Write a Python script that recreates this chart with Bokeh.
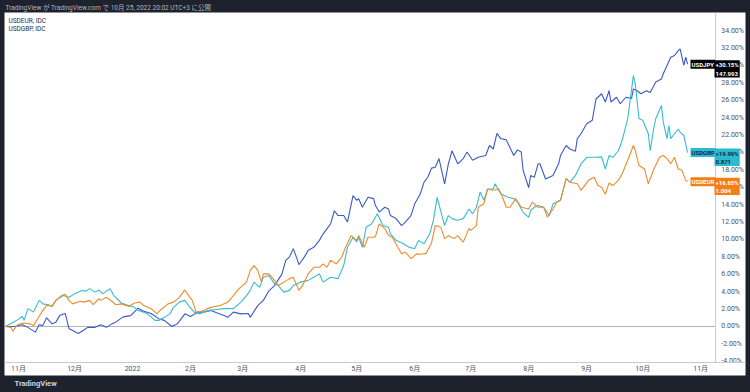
import numpy as np
from bokeh.plotting import figure
from bokeh.models import Range1d, FixedTicker, Span, Label, Title
from bokeh.core.properties import value
from bokeh.embed import file_html
from bokeh.resources import INLINE

# ---------------- data (percent change since start date) ----------------
start_date = "2021-10-25"

jpy_days = [0, 5, 9, 12, 16, 18, 20, 22, 25, 27,
            29, 32, 34, 36, 39, 42, 44, 48, 51, 54,
            57, 59, 63, 67, 71, 74, 78, 82, 85, 89,
            92, 96, 99, 103, 106, 110, 114, 117, 119, 122,
            126, 130, 131, 135, 138, 141, 144, 148, 150, 152,
            154, 156, 157, 160, 162, 165, 168, 170, 174, 176,
            178, 181, 183, 186, 188, 189, 191, 194, 197, 198,
            200, 203, 205, 206, 209, 212, 214, 217, 219, 221,
            222, 224, 226, 228, 230, 232, 235, 237, 239, 242,
            245, 247, 250, 253, 257, 259, 261, 263, 265, 268,
            272, 274, 276, 277, 280, 281, 283, 285, 286, 289,
            293, 296, 297, 300, 302, 305, 306, 308, 311, 314,
            316, 319, 321, 323, 324, 327, 329, 332, 335, 336,
            338, 340, 343, 345, 348, 351, 352, 354, 356, 358,
            360, 361, 363, 364, 365]
jpy_pct = [0.0, 0.0, 0.2, -0.1, -0.65, 0.2, 0.1, 1.0, 0.3, 0.5,
           1.25, 1.5, -0.25, -0.45, -0.8, -0.4, -0.1, -0.1, 0.2, -0.1,
           0.3, 0.5, 1.1, 1.25, 2.1, 1.75, 1.5, 0.9, 0.7, 0.0,
           0.3, 1.45, 1.15, 1.65, 1.65, 1.85, 1.5, 1.25, 1.05, 1.65,
           1.45, 1.5, 1.05, 2.4, 3.0, 4.1, 4.7, 6.05, 7.6, 8.0,
           8.95, 7.8, 7.1, 8.0, 8.75, 9.1, 9.9, 10.65, 11.8, 13.3,
           12.75, 12.75, 12.0, 15.05, 14.5, 14.7, 13.7, 14.85, 14.7, 13.9,
           13.15, 13.7, 13.5, 12.75, 12.4, 11.6, 12.0, 12.75, 14.1, 14.85,
           15.25, 16.6, 17.15, 18.2, 18.3, 19.3, 16.4, 18.7, 20.2, 18.7,
           19.3, 20.05, 19.1, 19.45, 19.65, 20.8, 20.4, 22.2, 21.6, 21.45,
           19.65, 20.3, 20.05, 17.95, 15.95, 17.35, 17.15, 18.7, 18.7, 16.95,
           17.35, 18.7, 19.65, 20.8, 20.4, 20.15, 21.6, 22.15, 23.3, 23.7,
           26.15, 26.75, 25.8, 27.1, 25.8, 26.35, 25.6, 26.35, 26.2, 27.3,
           27.1, 26.75, 27.1, 26.9, 28.1, 28.45, 29.05, 30.0, 30.95, 31.15,
           31.7, 31.9, 30.0, 30.95, 30.15]

gbp_days = [0, 6, 9, 10, 12, 15, 18, 20, 23, 25,
            27, 31, 34, 37, 41, 43, 45, 48, 50, 52,
            56, 58, 62, 66, 69, 71, 74, 76, 80, 82,
            85, 88, 90, 93, 96, 98, 101, 104, 106, 109,
            113, 117, 120, 122, 126, 129, 131, 133, 136, 138,
            141, 144, 146, 149, 152, 154, 158, 162, 165, 168,
            170, 174, 178, 181, 183, 186, 188, 189, 191, 193,
            196, 199, 202, 205, 206, 209, 213, 216, 219, 221,
            224, 227, 229, 231, 235, 237, 239, 242, 245, 248,
            250, 252, 254, 256, 258, 261, 262, 265, 269, 272,
            274, 276, 277, 280, 281, 283, 285, 288, 291, 293,
            297, 300, 302, 305, 308, 311, 313, 316, 319, 321,
            323, 325, 328, 330, 333, 336, 337, 339, 341, 344,
            345, 347, 348, 351, 352, 354, 355, 356, 358, 360,
            361, 363, 364, 365]
gbp_pct = [0.0, 0.7, 1.15, 0.7, 2.05, 1.65, 3.0, 2.6, 2.5, 2.3,
           3.0, 3.55, 3.35, 3.75, 4.15, 4.05, 4.35, 3.95, 4.2, 3.75,
           4.35, 3.55, 2.7, 2.4, 2.2, 1.85, 1.65, 1.45, 0.7, 0.7,
           1.05, 1.45, 2.2, 2.8, 3.0, 2.4, 1.65, 1.45, 1.65, 1.85,
           1.95, 2.05, 2.05, 2.05, 2.8, 3.55, 4.15, 5.1, 4.5, 5.65,
           5.85, 4.9, 4.7, 3.95, 4.15, 4.7, 5.1, 5.3, 5.65, 6.05,
           5.1, 5.65, 5.5, 7.0, 9.1, 10.25, 9.7, 10.25, 9.1, 11.4,
           11.8, 12.95, 11.6, 11.4, 10.65, 9.9, 9.5, 9.1, 8.95, 9.9,
           9.5, 10.65, 12.2, 14.85, 11.6, 12.75, 12.4, 12.2, 12.4, 13.5,
           12.95, 13.7, 15.45, 14.5, 15.8, 15.8, 16.4, 15.25, 14.85, 14.7,
           14.3, 13.5, 13.15, 12.55, 13.35, 13.7, 13.9, 13.7, 12.75, 14.1,
           14.5, 17.0, 16.6, 17.35, 18.7, 19.45, 19.45, 19.45, 19.5, 18.1,
           19.65, 19.45, 20.2, 21.4, 23.9, 28.85, 27.9, 23.9, 23.7, 22.15,
           20.2, 22.9, 23.9, 25.4, 23.5, 21.6, 23.1, 21.6, 22.15, 22.7,
           22.35, 21.95, 21.0, 19.99]

eur_days = [0, 3, 4, 6, 8, 10, 13, 15, 18, 20,
            22, 25, 27, 30, 32, 34, 36, 40, 42, 45,
            47, 50, 51, 54, 57, 59, 62, 66, 69, 72,
            74, 78, 81, 83, 87, 90, 93, 96, 98, 100,
            102, 105, 108, 112, 115, 119, 122, 125, 129, 131,
            133, 135, 137, 138, 141, 144, 146, 149, 152, 154,
            157, 159, 162, 165, 168, 170, 172, 174, 177, 180,
            182, 185, 188, 189, 192, 194, 197, 198, 200, 203,
            205, 207, 210, 212, 214, 217, 220, 222, 225, 228,
            230, 233, 235, 237, 240, 242, 245, 248, 249, 252,
            253, 256, 258, 261, 264, 266, 268, 270, 273, 276,
            280, 282, 285, 288, 290, 293, 295, 297, 300, 302,
            306, 308, 312, 315, 317, 319, 321, 323, 325, 328,
            330, 333, 336, 337, 339, 342, 344, 347, 350, 352,
            354, 356, 358, 360, 362, 364, 365]
eur_pct = [0.0, -0.1, -0.55, 0.1, 0.3, 0.4, 0.3, 0.1, 1.15, 1.85,
           2.4, 2.4, 3.0, 3.55, 3.7, 3.0, 2.6, 2.9, 2.8, 3.0,
           2.5, 3.2, 3.0, 3.35, 2.9, 2.5, 2.6, 2.3, 2.7, 2.8,
           2.4, 2.05, 1.45, 1.9, 2.6, 2.8, 3.35, 4.2, 3.55, 3.0,
           1.65, 1.75, 2.05, 2.3, 2.4, 2.8, 3.55, 4.35, 5.1, 6.45,
           7.0, 6.45, 5.1, 6.05, 6.05, 5.3, 4.7, 5.1, 5.5, 5.65,
           4.15, 4.7, 6.05, 6.8, 6.8, 7.2, 6.8, 7.6, 7.2, 8.0,
           9.1, 10.45, 9.9, 10.45, 9.1, 10.25, 10.25, 10.35, 11.8, 11.25,
           10.45, 10.25, 9.1, 8.35, 8.55, 7.8, 8.35, 8.3, 8.4, 9.6,
           11.6, 11.4, 10.1, 10.45, 10.1, 10.45, 9.7, 11.25, 11.05, 11.6,
           13.7, 14.1, 15.8, 15.65, 15.8, 14.85, 13.7, 13.7, 14.7, 13.7,
           13.5, 14.3, 13.7, 13.7, 12.55, 13.5, 14.3, 14.5, 17.0, 16.6,
           16.4, 15.65, 16.8, 17.15, 16.2, 16.0, 15.2, 16.5, 16.2, 16.8,
           17.55, 19.1, 20.8, 20.25, 18.5, 18.1, 16.4, 18.1, 19.45, 19.65,
           19.3, 18.7, 19.45, 18.1, 17.95, 16.8, 16.65]

month_ticks = ["2021-11-01", "2021-12-01", "2022-01-01", "2022-02-01", "2022-03-01",
               "2022-04-01", "2022-05-01", "2022-06-01", "2022-07-01", "2022-08-01",
               "2022-09-01", "2022-10-01", "2022-11-01"]
month_labels = ["11月", "12月", "2022", "2月", "3月", "4月", "5月", "6月", "7月",
                "8月", "9月", "10月", "11月"]
y_ticks = [-4, -2, 0, 2, 4, 6, 8, 10, 12, 14, 16, 18, 20, 22, 24, 26, 28, 30, 32, 34]

symbols = ["USDJPY", "USDGBP", "USDEUR"]
last_change = ["+30.15%", "+19.99%", "+16.65%"]
last_price = ["147.993", "0.871", "1.004"]
legend_rows = ["USDEUR, IDC", "USDGBP, IDC"]
header_text = "TradingView が TradingView.com で 10月 25, 2022 20:02 UTC+3 に公開"
brand_text = "TradingView"

# ---------------- styling / layout ----------------
DARK = "#1e222d"
LINE_COLORS = {"USDJPY": "#3a5ac6", "USDGBP": "#35bdd0", "USDEUR": "#ee8b2b"}
TAG_COLORS = {"USDJPY": "#000000", "USDGBP": "#2bbad0", "USDEUR": "#f57f17"}
TAG_TEXT = {"USDJPY": "#ffffff", "USDGBP": "#0e2a3a", "USDEUR": "#ffffff"}
FONT = "Roboto"
MIXED_FONT = "Roboto, 'Noto Sans CJK JP'"
DAY_MS = 86400000.0
VIEW_END_DAY = 396        # right edge of the drawing area (includes price scale)
SCALE_DAY = 380           # where the price scale starts


def ms(s):
    return float(np.datetime64(s, "ms").astype("int64"))


def to_dates(days):
    return (np.datetime64(start_date) + np.array(days).astype("timedelta64[D]")).astype("datetime64[ms]")


t0 = ms(start_date)
x_start = t0 - 0.5 * DAY_MS
scale_x = t0 + SCALE_DAY * DAY_MS

p = figure(width=750, height=392, frame_width=741, frame_height=350,
           x_axis_type="datetime",
           x_range=Range1d(x_start, t0 + VIEW_END_DAY * DAY_MS),
           y_range=Range1d(-4.14, 36.09),
           y_axis_location=None,
           output_backend="svg", toolbar_location=None,
           min_border_left=4, min_border_right=5, min_border_top=12, min_border_bottom=30,
           border_fill_color=DARK, background_fill_color="white",
           outline_line_color=None)
p.grid.visible = False

# time axis
xa = p.xaxis[0]
xa.ticker = FixedTicker(ticks=[ms(m) for m in month_ticks])
xa.major_label_overrides = {ms(m): lab for m, lab in zip(month_ticks, month_labels)}
xa.major_tick_line_color = None
xa.minor_tick_line_color = None
xa.major_tick_out = 0
xa.axis_line_color = "#c8cad0"
xa.major_label_text_font_size = "7px"
xa.major_label_text_color = "#50535e"
xa.major_label_text_font = MIXED_FONT
xa.major_label_standoff = 2
xa.background_fill_color = "white"

# price scale (separator + labels)
p.add_layout(Span(location=scale_x, dimension="height", line_color="#c8cad0", line_width=1))
p.text(x=[t0 + (SCALE_DAY + 3) * DAY_MS] * len(y_ticks), y=y_ticks,
       text=["%.2f%%" % v for v in y_ticks],
       text_font=value(FONT), text_font_size="7px", text_color="#50535e",
       text_align="left", text_baseline="middle")

# zero line up to the price scale
p.segment(x0=[x_start], y0=[0], x1=[scale_x], y1=[0], line_color="#b2b5be", line_width=1)

series = {"USDJPY": (jpy_days, jpy_pct), "USDGBP": (gbp_days, gbp_pct), "USDEUR": (eur_days, eur_pct)}
for name in symbols:
    d, v = series[name]
    p.line(to_dates(d), v, line_color=LINE_COLORS[name], line_width=1.1)

# last-value tags
for name, chg, price in zip(symbols, last_change, last_price):
    last = series[name][1][-1]
    p.add_layout(Label(x=686, x_units="screen", y=last, text=name,
                       text_font=FONT, text_font_size="6px", text_font_style="bold",
                       text_color=TAG_TEXT[name], background_fill_color=TAG_COLORS[name],
                       text_align="left", text_baseline="middle", padding=1))
    p.add_layout(Label(x=710, x_units="screen", y=last, y_offset=4, text=chg + "\n" + price,
                       text_font=FONT, text_font_size="6px", text_font_style="bold",
                       text_color=TAG_TEXT[name], background_fill_color=TAG_COLORS[name],
                       text_align="left", text_baseline="top", padding=1))

# legend rows (top-left)
for i, row in enumerate(legend_rows):
    p.add_layout(Label(x=4, x_units="screen", y=342 - 8 * i, y_units="screen", text=row,
                       text_font=FONT, text_font_size="6.5px", text_color="#2a2e39",
                       text_baseline="middle"))

# header in the dark bar and footer brand
p.add_layout(Title(text=header_text, align="left", offset=1, standoff=1,
                   text_font=MIXED_FONT, text_font_size="6.5px", text_font_style="normal",
                   text_color="#b2b5be"), "above")
p.add_layout(Title(text=brand_text, align="left", offset=10, standoff=3,
                   text_font=FONT, text_font_size="7.5px", text_font_style="bold",
                   text_color="#d1d4dc"), "below")

tmpl = ("{% block preamble %}<style>html,body{margin:0 !important;padding:0;"
        "background:#1e222d;overflow:hidden;}</style>{% endblock %}")
open("out.html", "w").write(file_html(p, INLINE, template=tmpl))
